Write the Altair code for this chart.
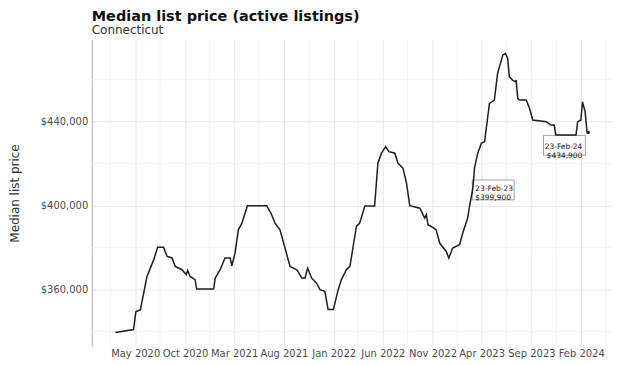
import altair as alt
import pandas as pd

# ---------------- data ----------------
dates = [
    "2020-03-01", "2020-04-26", "2020-05-03", "2020-05-17", "2020-06-06", "2020-06-27", "2020-07-09", "2020-07-27", "2020-08-07", "2020-08-22",
    "2020-09-01", "2020-09-22", "2020-10-05", "2020-10-09", "2020-10-17", "2020-11-01", "2020-11-06", "2020-12-28", "2021-01-02", "2021-01-17",
    "2021-02-01", "2021-02-17", "2021-02-22", "2021-03-04", "2021-03-14", "2021-03-25", "2021-04-11", "2021-06-09", "2021-06-22", "2021-07-05",
    "2021-07-20", "2021-08-20", "2021-09-10", "2021-09-25", "2021-10-05", "2021-10-13", "2021-10-25", "2021-11-09", "2021-11-20", "2021-12-05",
    "2021-12-15", "2021-12-31", "2022-01-15", "2022-01-25", "2022-02-09", "2022-02-20", "2022-03-02", "2022-03-12", "2022-03-22", "2022-04-07",
    "2022-05-07", "2022-05-17", "2022-05-28", "2022-06-10", "2022-06-20", "2022-07-08", "2022-07-18", "2022-08-02", "2022-08-13", "2022-08-23",
    "2022-09-23", "2022-10-08", "2022-10-13", "2022-10-18", "2022-10-28", "2022-11-12", "2022-11-23", "2022-12-13", "2022-12-21", "2023-01-02",
    "2023-01-23", "2023-02-02", "2023-02-17", "2023-02-23", "2023-03-05", "2023-03-10", "2023-03-20", "2023-03-31", "2023-04-10", "2023-04-25",
    "2023-05-10", "2023-05-20", "2023-06-05", "2023-06-13", "2023-06-20", "2023-06-25", "2023-07-05", "2023-07-14", "2023-07-16", "2023-07-21",
    "2023-07-26", "2023-08-16", "2023-08-26", "2023-09-05", "2023-10-16", "2023-10-31", "2023-11-10", "2023-11-15", "2024-01-16", "2024-01-21",
    "2024-01-31", "2024-02-05", "2024-02-13", "2024-02-19", "2024-02-23",
]
prices = [
    339600, 341000, 349500, 350500, 366200, 374300, 380200, 380200, 375800, 375100,
    371100, 369500, 367100, 369200, 366300, 364800, 360300, 360300, 365600, 369500,
    375100, 375100, 371400, 377500, 388500, 391700, 400000, 400000, 396500, 391700,
    388500, 371100, 369500, 365600, 365600, 370300, 365600, 363200, 360000, 359200,
    350500, 350500, 360000, 364800, 369500, 371100, 380600, 390100, 391700, 399900,
    399900, 420200, 425000, 428100, 425700, 425000, 420200, 417900, 410700, 400000,
    398800, 394100, 395700, 390900, 390100, 388500, 382200, 378200, 375100, 379800,
    381400, 387000, 394100, 399900, 408300, 418000, 425000, 429700, 430500, 448700,
    450300, 463000, 471700, 472500, 470100, 461400, 459800, 459000, 459800, 451100,
    450300, 450300, 446400, 440800, 440000, 438400, 438400, 433700, 433700, 439900,
    440800, 449400, 444800, 434900, 434900,
]

x_tick_dates = ["2020-05-01", "2020-10-01", "2021-03-01", "2021-08-01", "2022-01-01",
                "2022-06-01", "2022-11-01", "2023-04-01", "2023-09-01", "2024-02-01"]
y_major = [360000, 400000, 440000]
y_minor = [340000, 380000, 420000, 460000]

ann_dates = ["2023-02-23", "2024-02-23"]
ann_prices = [399900, 434900]
ann_labels = ["23-Feb-23\n$399,900", "23-Feb-24\n$434,900"]

# ---------------- helpers ----------------
def ms(s):
    return int(pd.Timestamp(s, tz="UTC").value // 10**6)

t = [ms(d) for d in dates]
tspan = max(t) - min(t)
x_dom = [min(t) - 0.05 * tspan, max(t) + 0.05 * tspan]
vspan = max(prices) - min(prices)
y_dom = [min(prices) - 0.05 * vspan, max(prices) + 0.05 * vspan]

tick_ms = [ms(d) for d in x_tick_dates]
minor_ms = [(a + b) / 2 for a, b in zip(tick_ms[:-1], tick_ms[1:])]
minor_ms = [tick_ms[0] - (tick_ms[1] - tick_ms[0]) / 2] + minor_ms + [tick_ms[-1] + (tick_ms[-1] - tick_ms[-2]) / 2]
minor_ms = [m for m in minor_ms if x_dom[0] < m < x_dom[1]]

df = pd.DataFrame({"date": dates, "price": prices})
ann = pd.DataFrame({"date": ann_dates, "price": ann_prices, "label": ann_labels})
xminor = pd.DataFrame({"date": minor_ms})
yminor = pd.DataFrame({"price": y_minor})

FONT = "DejaVu Sans"
xscale = alt.Scale(type="utc", domain=x_dom, nice=False)
yscale = alt.Scale(domain=y_dom, nice=False, zero=False)

X = alt.X(
    "date:T", scale=xscale,
    axis=alt.Axis(values=tick_ms, labelExpr="utcFormat(datum.value, '%b %Y')", labelOverlap=False,
                  labelFlush=False, ticks=False, domain=False, grid=True, gridColor="#e8e8e8",
                  labelFontSize=10, labelColor="#4d4d4d", labelPadding=2, title=None,
                  labelFont=FONT),
)
Y = alt.Y(
    "price:Q", scale=yscale,
    axis=alt.Axis(values=y_major, format="$,.0f", ticks=False, domain=True, domainColor="#b0b0b0",
                  grid=True, gridColor="#e8e8e8", labelFontSize=10, labelColor="#4d4d4d",
                  labelPadding=4, title="Median list price", titleFontSize=12,
                  titleFontWeight="normal", titleColor="#333333", titlePadding=19,
                  labelFont=FONT, titleFont=FONT),
)

gx = alt.Chart(xminor).mark_rule(color="#f1f1f1", strokeWidth=0.8).encode(x=X)
gy = alt.Chart(yminor).mark_rule(color="#f1f1f1", strokeWidth=0.8).encode(y=Y)

line = alt.Chart(df).mark_line(color="#1e1e1e", strokeWidth=1.5).encode(x=X, y=Y)

box_path = "M-1,-0.476H1V0.476H-1Z"
a1 = alt.Chart(ann.iloc[[0]]).encode(x=X, y=Y)
a2 = alt.Chart(ann.iloc[[1]]).encode(x=X, y=Y)

box1 = a1.mark_point(shape=box_path, size=1764, filled=True, color="white", stroke="#8c8c8c",
                     strokeWidth=0.8, opacity=1, xOffset=23.7, yOffset=-16)
box2 = a2.mark_point(shape=box_path, size=1764, filled=True, color="white", stroke="#8c8c8c",
                     strokeWidth=0.8, opacity=1, xOffset=-24, yOffset=13)
txt1 = a1.mark_text(align="left", baseline="middle", dx=5.7, dy=-17, fontSize=7.5, lineHeight=9,
                    color="#222222", lineBreak="\n", font=FONT).encode(text="label:N")
txt2 = a2.mark_text(align="right", baseline="middle", dx=-6, dy=14.3, fontSize=7.5, lineHeight=9,
                    color="#222222", lineBreak="\n", font=FONT).encode(text="label:N")
dot = a2.mark_circle(size=10, color="#1e1e1e", opacity=1)

chart = alt.layer(gx, gy, box1, box2, line, txt1, txt2, dot).properties(
    width=522,
    height=308,
    padding={"left": 0, "top": 0, "right": 0, "bottom": 0},
    title=alt.TitleParams(
        "Median list price (active listings)", subtitle="Connecticut", anchor="start",
        frame="group", fontSize=14.5, fontWeight="bold", color="#111111", font=FONT,
        subtitleFont=FONT, subtitleFontSize=12, subtitleColor="#333333",
        subtitlePadding=1, offset=2,
    ),
).configure(font=FONT, background="white").configure_view(stroke=None)

chart.save("out.html", embed_options={"renderer": "svg", "actions": False})
